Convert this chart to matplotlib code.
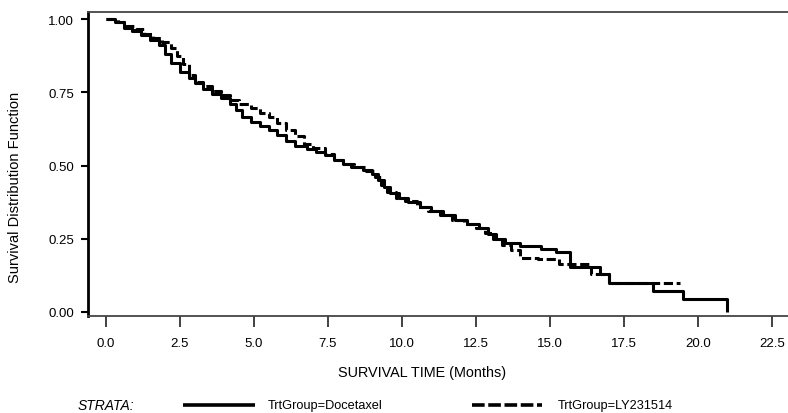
import matplotlib
matplotlib.use("Agg")
import matplotlib.pyplot as plt
from matplotlib.lines import Line2D

plt.rcParams["font.family"] = ["Liberation Sans", "DejaVu Sans"]

# Kaplan-Meier steps (months, survival)
doc_time = [0.0, 0.3, 0.6, 0.9, 1.2, 1.5, 1.8, 2.0, 2.2, 2.5, 2.8, 3.0, 3.3, 3.6,
            3.9, 4.2, 4.4, 4.6, 4.9, 5.2, 5.5, 5.8, 6.1, 6.4, 6.8, 7.1, 7.4, 7.7,
            8.0, 8.3, 8.7, 9.0, 9.2, 9.4, 9.6, 9.9, 10.2, 10.6, 11.0, 11.4, 11.8,
            12.2, 12.6, 12.9, 13.2, 13.5, 14.0, 14.7, 15.2, 15.7, 16.7, 17.0,
            18.5, 19.5, 21.0]
doc_surv = [1.00, 0.99, 0.97, 0.96, 0.945, 0.93, 0.91, 0.88, 0.85, 0.82, 0.80,
            0.78, 0.76, 0.745, 0.73, 0.71, 0.69, 0.665, 0.65, 0.635, 0.62, 0.605,
            0.585, 0.565, 0.555, 0.545, 0.535, 0.52, 0.505, 0.495, 0.485, 0.47,
            0.45, 0.425, 0.405, 0.39, 0.375, 0.36, 0.345, 0.33, 0.315, 0.30,
            0.285, 0.265, 0.25, 0.235, 0.225, 0.215, 0.205, 0.155, 0.13, 0.10,
            0.07, 0.045, 0.0]

ly_time = [0.0, 0.4, 0.7, 1.0, 1.3, 1.6, 1.9, 2.2, 2.4, 2.6, 2.8, 3.0, 3.3, 3.6,
           3.9, 4.2, 4.5, 4.9, 5.2, 5.5, 5.8, 6.1, 6.4, 6.7, 7.0, 7.4, 7.7, 8.0,
           8.4, 8.8, 9.1, 9.3, 9.5, 9.8, 10.1, 10.5, 10.9, 11.3, 11.7, 12.1,
           12.5, 12.8, 13.1, 13.4, 13.7, 14.0, 14.6, 15.3, 16.4, 17.0, 19.4]
ly_surv = [1.00, 0.99, 0.975, 0.965, 0.95, 0.935, 0.92, 0.90, 0.875, 0.845,
           0.81, 0.785, 0.77, 0.755, 0.74, 0.725, 0.71, 0.695, 0.68, 0.665,
           0.645, 0.62, 0.60, 0.575, 0.56, 0.54, 0.52, 0.505, 0.495, 0.48,
           0.46, 0.435, 0.41, 0.39, 0.38, 0.36, 0.345, 0.33, 0.315, 0.30,
           0.285, 0.27, 0.25, 0.23, 0.21, 0.185, 0.18, 0.165, 0.13, 0.10, 0.10]

x_ticks = [0.0, 2.5, 5.0, 7.5, 10.0, 12.5, 15.0, 17.5, 20.0, 22.5]
y_ticks = [0.00, 0.25, 0.50, 0.75, 1.00]

fig = plt.figure(figsize=(7.88, 4.14), dpi=100)
ax = fig.add_axes([88 / 788, 97 / 414, 700 / 788, 304 / 414])

ax.plot(doc_time, doc_surv, drawstyle="steps-post", color="black", lw=2.2,
        solid_capstyle="butt")
ax.plot(ly_time, ly_surv, drawstyle="steps-post", color="black", lw=2.2,
        linestyle=(0, (3, 1.2)))

ax.set_xlim(-0.6, 23.05)
ax.set_ylim(-0.0137, 1.024)
ax.set_xticks(x_ticks)
ax.set_xticklabels([f"{v:.1f}" for v in x_ticks])
ax.set_yticks(y_ticks)
ax.set_yticklabels([f"{v:.2f}" for v in y_ticks])

ax.spines["right"].set_visible(False)
ax.spines["left"].set_linewidth(2.0)
ax.spines["left"].set_color("black")
for s in ("top", "bottom"):
    ax.spines[s].set_linewidth(1.3)
    ax.spines[s].set_color("#444444")

ax.tick_params(axis="y", direction="out", length=5, width=1.5, labelsize=9.5,
               pad=5, color="black")
ax.tick_params(axis="x", direction="out", length=8, width=1.3, labelsize=9.5,
               pad=7, color="#333333")

fig.text(422 / 788, 1 - 373 / 414, "SURVIVAL TIME (Months)", ha="center",
         va="center", fontsize=10.4)
fig.text(15 / 788, 1 - 187 / 414, "Survival Distribution Function",
         rotation=90, ha="center", va="center", fontsize=10.5)

# legend row at the bottom
ly = 1 - 406 / 414
fig.text(78 / 788, ly, "STRATA:", style="italic", ha="left", va="center",
         fontsize=10)
fig.add_artist(Line2D([183 / 788, 255 / 788], [ly, ly], color="black", lw=2.6,
                      solid_capstyle="butt"))
fig.text(268 / 788, ly, "TrtGroup=Docetaxel", ha="left", va="center",
         fontsize=9.2)
fig.add_artist(Line2D([472 / 788, 542 / 788], [ly, ly], color="black", lw=2.6,
                      linestyle=(0, (3.5, 1))))
fig.text(558 / 788, ly, "TrtGroup=LY231514", ha="left", va="center",
         fontsize=9.2)

fig.savefig("out.png", dpi=100)
